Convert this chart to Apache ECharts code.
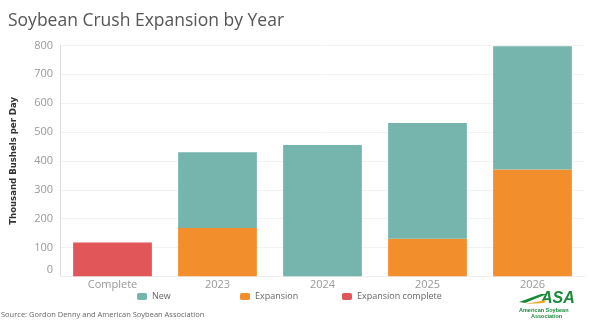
<!DOCTYPE html>
<html><head><meta charset="utf-8">
<script src="https://cdn.jsdelivr.net/npm/echarts@6/dist/echarts.min.js"></script>
<style>html,body{margin:0;padding:0;background:#fff}#c{width:589px;height:328px}</style>
</head><body><div id="c"></div>
<script>
const categories = ['Complete', '2023', '2024', '2025', '2026'];
const expansionComplete = [117, null, null, null, null];
const expansion = [null, 167, null, 130, 370];
const newCap = [null, 263, 455, 401, 427];
const yTicks = [0, 100, 200, 300, 400, 500, 600, 700, 800];

const chart = echarts.init(document.getElementById('c'));
const barBase = { type: 'bar', barWidth: '75%', stack: 'total' };
const lt = { fontSize: 9, color: '#666', fontFamily: 'Open Sans' };
chart.setOption({
  animation: false,
  title: { text: 'Soybean Crush Expansion by Year', left: 3, top: 7,
    textStyle: { fontFamily: 'Open Sans', fontWeight: 'normal', fontSize: 17.5, color: '#555' } },
  grid: { left: 60, right: 4, top: 45.5, bottom: 51.7 },
  legend: [
    { data: ['New'], left: 132, top: 287, itemWidth: 10, itemHeight: 7, textStyle: lt },
    { data: ['Expansion'], left: 235, top: 287, itemWidth: 10, itemHeight: 7, textStyle: lt },
    { data: ['Expansion complete'], left: 337, top: 287, itemWidth: 10, itemHeight: 7, textStyle: lt }
  ],
  xAxis: { type: 'category', data: categories,
    axisLine: { show: true, lineStyle: { color: '#eee' } }, axisTick: { show: false },
    axisLabel: { color: '#999', fontSize: 11, fontFamily: 'Open Sans', margin: 3 } },
  yAxis: { type: 'value', min: yTicks[0], max: yTicks[yTicks.length - 1], interval: 100,
    name: 'Thousand Bushels per Day', nameLocation: 'middle', nameGap: 41, nameRotate: 90,
    nameTextStyle: { fontFamily: "'Liberation Sans Narrow', 'DejaVu Sans Condensed', sans-serif", fontSize: 9.5, fontWeight: 'bold', color: '#333' },
    axisLine: { show: true, lineStyle: { color: '#ddd' } }, axisTick: { show: false },
    splitLine: { lineStyle: { color: '#f2f2f2' } },
    axisLabel: { color: '#999', fontSize: 11, fontFamily: 'Open Sans', margin: 7,
      formatter: v => v === 0 ? '{z|0}' : String(v),
      rich: { z: { color: '#999', fontSize: 11, fontFamily: 'Open Sans', padding: [0, 0, 12, 0] } } } },
  series: [
    Object.assign({}, barBase, { name: 'Expansion complete', data: expansionComplete, color: '#e15759' }),
    Object.assign({}, barBase, { name: 'Expansion', data: expansion, color: '#f28e2b' }),
    Object.assign({}, barBase, { name: 'New', data: newCap, color: '#76b5ae' })
  ],
  graphic: [
    { type: 'text', left: 1, top: 311, style: { text: 'Source: Gordon Denny and American Soybean Association', fontSize: 7.5, fill: '#666', fontFamily: 'Open Sans' } },
    { type: 'text', left: 541, top: 291, style: { text: 'ASA', fontSize: 16, fontWeight: 'bold', fontStyle: 'italic', fill: '#1a8a3a', fontFamily: 'Liberation Sans' } },
    { type: 'polygon', shape: { points: [[519, 302], [541, 294], [547, 294], [525, 303]] }, style: { fill: '#1a8a3a' } },
    { type: 'polygon', shape: { points: [[525, 304], [546, 300], [544, 303]] }, style: { fill: '#f5a623' } },
    { type: 'text', left: 519, top: 307, style: { text: 'American Soybean', fontSize: 5.5, fontWeight: 'bold', fill: '#1a8a3a', fontFamily: 'Liberation Sans' } },
    { type: 'text', left: 531, top: 313, style: { text: 'Association', fontSize: 5.5, fontWeight: 'bold', fill: '#1a8a3a', fontFamily: 'Liberation Sans' } }
  ]
});
</script></body></html>
